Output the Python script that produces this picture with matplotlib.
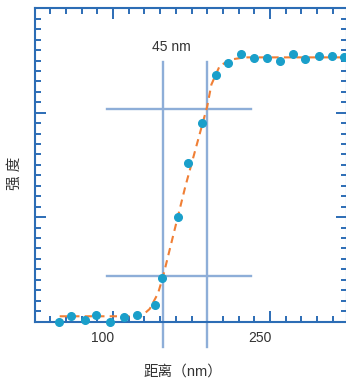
import numpy as np
import matplotlib
matplotlib.use('Agg')
import matplotlib.pyplot as plt
from matplotlib.ticker import FixedLocator
from matplotlib.transforms import ScaledTranslation

plt.rcParams['font.family'] = ['Liberation Sans', 'Noto Sans CJK SC', 'DejaVu Sans']

# measured points
pts_x = [48, 60, 73, 84, 97, 110, 123, 140, 147, 162, 172, 185,
         198, 210, 222, 235, 247, 260, 272, 283, 297, 309, 321]
pts_y = [0.00, 0.05, 0.01, 0.06, 0.00, 0.04, 0.06, 0.16, 0.42, 1.00, 1.52, 1.90,
         2.36, 2.48, 2.56, 2.52, 2.52, 2.50, 2.56, 2.51, 2.54, 2.54, 2.53]

# fitted curve
fit_x = [49, 127, 135, 143, 148, 169, 190, 194, 202, 213, 226, 330]
fit_y = [0.05, 0.05, 0.12, 0.27, 0.44, 1.29, 2.06, 2.27, 2.45, 2.51, 2.53, 2.53]

# crosshair marks
edge_x = [147.8, 189.8]
edge_y = [2.04, 0.44]
width_label = '45 nm'

xticks = [100, 250]
xticklabels = ['100', '250']

spine_c = '#2c6db5'
fig = plt.figure(figsize=(3.46, 3.83), dpi=100)
ax = fig.add_axes([35/346, 61.5/383, 312/346, 313.2/383])

ax.plot(fit_x, fit_y, color='#f07f35', lw=1.5, dashes=[3.5, 2.5], zorder=3)
ax.plot(pts_x, pts_y, 'o', color='#1a9fca', ms=5.5, zorder=4, clip_on=False)

for xv in edge_x:
    ax.plot([xv, xv], [-0.24, 2.49], color='#8eaed8', lw=1.7, clip_on=False, zorder=2)
for yv in edge_y:
    ax.plot([94.3, 231.8], [yv, yv], color='#8eaed8', lw=1.7, zorder=2)

ax.text(155.4, 2.63, width_label, ha='center', va='center', fontsize=10, color='#333333')

ax.set_xlim(25.4, 323.6)
ax.set_ylim(0, 3)

ax.xaxis.set_major_locator(FixedLocator(xticks))
ax.xaxis.set_minor_locator(FixedLocator(np.arange(40, 330, 15)))
ax.set_xticklabels(xticklabels)
ax.yaxis.set_major_locator(FixedLocator([0, 1, 2, 3]))
ax.yaxis.set_minor_locator(FixedLocator(np.arange(0, 3.01, 0.1)))
ax.set_yticklabels([])

ax.tick_params(which='both', direction='in', top=True, right=True, color=spine_c, width=1.4)
ax.tick_params(which='major', length=8)
ax.tick_params(which='minor', length=4.3)
ax.tick_params(axis='x', labelsize=10, labelcolor='#333333', pad=7)
for sp in ax.spines.values():
    sp.set_color(spine_c)
    sp.set_linewidth(1.5)

off = ScaledTranslation(-10/100, 0, fig.dpi_scale_trans)
for lab in ax.get_xticklabels():
    lab.set_transform(lab.get_transform() + off)

ax.set_xlabel('距离（nm）', fontsize=10.5, color='#333333')
ax.xaxis.set_label_coords(0.474, -0.161)
ax.xaxis.label.set_va('center')
ax.set_ylabel('强 度', fontsize=10.5, color='#333333')
ax.yaxis.set_label_coords(-0.064, 0.4726)
ax.yaxis.label.set_va('center')

fig.savefig('out.png', dpi=100)
